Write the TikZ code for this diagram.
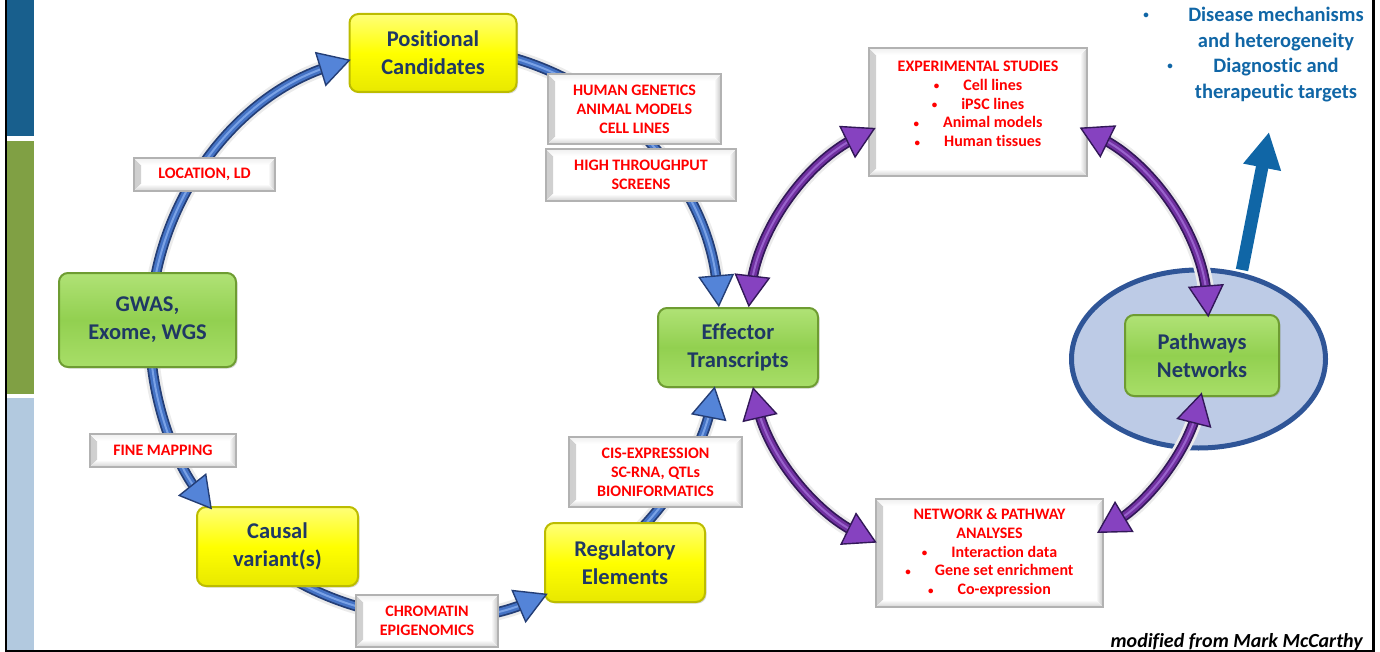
\documentclass[tikz,border=0pt]{standalone}
\usepackage{fontspec}
\setmainfont{Carlito}[Ligatures={NoCommon}]
\usetikzlibrary{arrows.meta,shapes.geometric,shadows}

\definecolor{navytext}{RGB}{31,56,100}
\definecolor{barblue}{RGB}{24,95,141}
\definecolor{bargreen}{RGB}{128,160,68}
\definecolor{barlight}{RGB}{178,201,223}
\definecolor{shaftbluedark}{RGB}{36,62,118}
\definecolor{shaftblue}{RGB}{68,114,196}
\definecolor{shaftbluelight}{RGB}{122,162,230}
\definecolor{tipblue}{RGB}{84,132,216}
\definecolor{shaftpurpledark}{RGB}{50,24,88}
\definecolor{shaftpurple}{RGB}{112,48,160}
\definecolor{shaftpurplelight}{RGB}{152,98,204}
\definecolor{tippurple}{RGB}{134,66,192}
\definecolor{boxyellow}{RGB}{255,255,0}
\definecolor{yellowtop}{RGB}{255,255,120}
\definecolor{yellowbot}{RGB}{232,232,0}
\definecolor{edgeyellow}{RGB}{188,188,0}
\definecolor{boxgreen}{RGB}{146,208,80}
\definecolor{greentop}{RGB}{176,226,118}
\definecolor{greenbot}{RGB}{168,222,104}
\definecolor{edgegreen}{RGB}{110,156,50}
\definecolor{ellfill}{RGB}{189,203,230}
\definecolor{elledge}{RGB}{47,85,151}
\definecolor{outblue}{RGB}{16,102,166}
\definecolor{labelred}{RGB}{255,0,0}

% small list bullet
\newcommand\listdot{\raisebox{0.5pt}{\fontsize{11}{11}\selectfont\textbullet}}

% bevelled faces of the white label buttons
\newcommand\bevelfaces{%
  \fill[left color=gray!38, right color=white]
    (path picture bounding box.north west) -- (path picture bounding box.south west)
    -- ([shift={(7pt,7pt)}]path picture bounding box.south west)
    -- ([shift={(7pt,-7pt)}]path picture bounding box.north west) -- cycle;
  \fill[left color=white, right color=gray!45]
    (path picture bounding box.north east) -- (path picture bounding box.south east)
    -- ([shift={(-7pt,7pt)}]path picture bounding box.south east)
    -- ([shift={(-7pt,-7pt)}]path picture bounding box.north east) -- cycle;
  \fill[top color=gray!12, bottom color=white]
    (path picture bounding box.north west) -- (path picture bounding box.north east)
    -- ([shift={(-7pt,-7pt)}]path picture bounding box.north east)
    -- ([shift={(7pt,-7pt)}]path picture bounding box.north west) -- cycle;
  \fill[top color=white, bottom color=gray!35]
    (path picture bounding box.south west) -- (path picture bounding box.south east)
    -- ([shift={(-7pt,7pt)}]path picture bounding box.south east)
    -- ([shift={(7pt,7pt)}]path picture bounding box.south west) -- cycle;
}

% a thick ring arc with outline, body and highlight
% #1 outline, #2 body, #3 highlight, #4 shortening, #5 centre, #6 radius, #7 start, #8 end
\newcommand\shaft[8]{%
  \draw[line width=16pt, black!8, #4, shift={(3,3)}]
    ([shift={(#7:#6)}]#5) arc[start angle=#7, end angle=#8, radius=#6];
  \draw[line width=10.5pt, #1, #4]
    ([shift={(#7:#6)}]#5) arc[start angle=#7, end angle=#8, radius=#6];
  \draw[line width=7pt, #2, #4]
    ([shift={(#7:#6)}]#5) arc[start angle=#7, end angle=#8, radius=#6];
  \draw[line width=2pt, #3, #4]
    ([shift={(#7:#6)}]#5) arc[start angle=#7, end angle=#8, radius=#6];
}
% arrow head at the end of a ring arc: #1 style, #2 centre, #3 radius, #4 from, #5 to
\newcommand\tipat[5]{%
  \draw[#1] ([shift={(#4:#3)}]#2) arc[start angle=#4, end angle=#5, radius=#3];
}

\begin{document}
\begin{tikzpicture}[x=1pt, y=-1pt,
  box/.style={rounded corners=9pt, line width=2pt, align=center, inner sep=0pt,
    font=\fontsize{22.5}{28}\selectfont\bfseries, text=navytext,
    drop shadow={shadow xshift=1.5pt, shadow yshift=-1.5pt, opacity=.3}},
  yellowbox/.style={box, draw=edgeyellow, top color=yellowtop, bottom color=yellowbot, middle color=boxyellow},
  greenbox/.style={box, draw=edgegreen, top color=greentop, bottom color=greenbot, middle color=boxgreen},
  labelbox/.style={draw=gray!60, line width=1.2pt, fill=white, inner sep=0pt, align=center,
    text=labelred, font=\fontsize{16}{19}\selectfont\bfseries, path picture={\bevelfaces}},
  labeltext/.style={align=center, inner sep=0pt, text=labelred, font=\fontsize{16}{18.7}\selectfont\bfseries},
  outtext/.style={align=center, inner sep=0pt, text=outblue, font=\fontsize{20.5}{25.5}\selectfont\bfseries},
  bluetip/.style={line width=0.01pt, draw=shaftbluedark,
    -{Triangle[length=32pt, width=36pt, line width=1.4pt, fill=tipblue]}},
  purpletip/.style={line width=0.01pt, draw=shaftpurpledark,
    -{Triangle[length=32pt, width=36pt, line width=1.4pt, fill=tippurple]}},
]
\useasboundingbox (0,0) rectangle (1380,652);

% side bars and frame
\fill[barblue] (7.3,0) rectangle (34,136);
\fill[bargreen] (7.3,141) rectangle (34,394);
\fill[barlight] (7.3,398) rectangle (34,650);
\draw[line width=2.4pt] (6,0) -- (6,652);
\draw[line width=2.4pt] (1373.5,0) -- (1373.5,652);
\draw[line width=2pt] (5,651) -- (1374.5,651);

% ring centres
\coordinate (cb) at (435,332);
\coordinate (cp) at (978,335);

% highlighted pathway hub
\node[ellipse, draw=elledge, fill=ellfill, line width=5pt, minimum width=254pt,
  minimum height=178pt, inner sep=0pt] (hub) at (1198.5,359) {};

% outcome arrow
\coordinate (upbase) at (1242,270);
\coordinate (uptip) at (1269,132);
\draw[line width=12.5pt, outblue, -{Triangle[length=36pt, width=36pt]}] (upbase) -- (uptip);

% blue ring shafts
\shaft{shaftbluedark}{shaftblue}{shaftbluelight}{shorten >=22pt}{cb}{285}{-175}{-107.2}
\shaft{shaftbluedark}{shaftblue}{shaftbluelight}{shorten >=22pt}{cb}{285}{-76}{-5}
\shaft{shaftbluedark}{shaftblue}{shaftbluelight}{shorten >=22pt}{cb}{285}{-185}{-218.5}
\shaft{shaftbluedark}{shaftblue}{shaftbluelight}{shorten >=22pt}{cb}{285}{-240}{-293.3}
\shaft{shaftbluedark}{shaftblue}{shaftbluelight}{shorten >=22pt}{cb}{285}{45}{11}

% purple ring shafts
\shaft{shaftpurpledark}{shaftpurple}{shaftpurplelight}{shorten >=22pt, shorten <=22pt}{cp}{231}{-173.1}{-116.3}
\shaft{shaftpurpledark}{shaftpurple}{shaftpurplelight}{shorten >=22pt, shorten <=22pt}{cp}{231}{-63.9}{-4.4}
\shaft{shaftpurpledark}{shaftpurple}{shaftpurplelight}{shorten >=22pt, shorten <=22pt}{cp}{231}{14.4}{59}
\shaft{shaftpurpledark}{shaftpurple}{shaftpurplelight}{shorten >=22pt, shorten <=22pt}{cp}{231}{-244}{-193}

% method labels
\node[labelbox, minimum width=141pt, minimum height=33pt] (lbloc) at (204.5,174.5) {LOCATION, LD};
\node[labelbox, minimum width=146pt, minimum height=33pt] (lbfine) at (163,450.5) {FINE MAPPING};
\node[labelbox, minimum width=173pt, minimum height=70pt] (lbhuman) at (634.5,109) {HUMAN GENETICS\\ANIMAL MODELS\\CELL LINES};
\node[labelbox, minimum width=190pt, minimum height=52pt] (lbhigh) at (641,175) {HIGH THROUGHPUT\\SCREENS};
\node[labelbox, minimum width=173pt, minimum height=70pt] (lbcis) at (655.5,472) {CIS-EXPRESSION\\SC-RNA, QTLs\\BIONIFORMATICS};
\node[labelbox, minimum width=142pt, minimum height=52pt] (lbchrom) at (427,621) {CHROMATIN\\EPIGENOMICS};
\node[labelbox, minimum width=218pt, minimum height=128pt] (lbexp) at (978,112) {};
\node[labeltext] (exptext) at (978,104) {EXPERIMENTAL STUDIES\\
  \listdot\hspace{24pt}Cell lines\\
  \listdot\hspace{24pt}iPSC lines\\
  \listdot\hspace{24pt}Animal models\\
  \listdot\hspace{24pt}Human tissues};
\node[labelbox, minimum width=227pt, minimum height=108pt, font=\fontsize{16}{18.7}\selectfont\bfseries] (lbnet) at (989.5,553) {NETWORK \& PATHWAY\\ANALYSES\\
  \listdot\hspace{24pt}Interaction data\\
  \listdot\hspace{24pt}Gene set enrichment\\
  \listdot\hspace{24pt}Co-expression};

% main steps
\node[yellowbox, minimum width=167pt, minimum height=78pt] (poscand) at (433,53) {Positional\\Candidates};
\node[greenbox, minimum width=177pt, minimum height=94pt] (gwas) at (147.5,320) {GWAS,\\Exome, WGS};
\node[yellowbox, minimum width=161pt, minimum height=79pt] (causal) at (277.5,546.5) {Causal\\variant(s)};
\node[yellowbox, minimum width=160pt, minimum height=79pt] (regel) at (625,562.5) {Regulatory\\Elements};
\node[greenbox, minimum width=160pt, minimum height=79pt] (effector) at (738,347.5) {Effector\\Transcripts};
\node[greenbox, minimum width=154pt, minimum height=81pt] (pathnet) at (1202,355.5) {Pathways\\Networks};

% arrow heads on top
\tipat{bluetip}{cb}{285}{-108.2}{-107.2}
\tipat{bluetip}{cb}{285}{-6}{-5}
\tipat{bluetip}{cb}{285}{-217.5}{-218.5}
\tipat{bluetip}{cb}{285}{-292.3}{-293.3}
\tipat{bluetip}{cb}{285}{12}{11}
\tipat{purpletip}{cp}{231}{-117.3}{-116.3}
\tipat{purpletip}{cp}{231}{-172.1}{-173.1}
\tipat{purpletip}{cp}{231}{-5.4}{-4.4}
\tipat{purpletip}{cp}{231}{-62.9}{-63.9}
\tipat{purpletip}{cp}{231}{58}{59}
\tipat{purpletip}{cp}{231}{15.4}{14.4}
\tipat{purpletip}{cp}{231}{-194}{-193}
\tipat{purpletip}{cp}{231}{-243}{-244}

% outcomes
\node[outtext] (bulone) at (1146,16) {\listdot};
\node[outtext] (dismech) at (1276,29) {Disease mechanisms\\and heterogeneity};
\node[outtext] (bultwo) at (1170,67) {\listdot};
\node[outtext] (diagtar) at (1276,80) {Diagnostic and\\therapeutic targets};

% credit
\node[anchor=east, inner sep=0pt, font=\fontsize{20}{22}\selectfont\bfseries\itshape] (credit) at (1363,642) {modified from Mark McCarthy};
\end{tikzpicture}
\end{document}
